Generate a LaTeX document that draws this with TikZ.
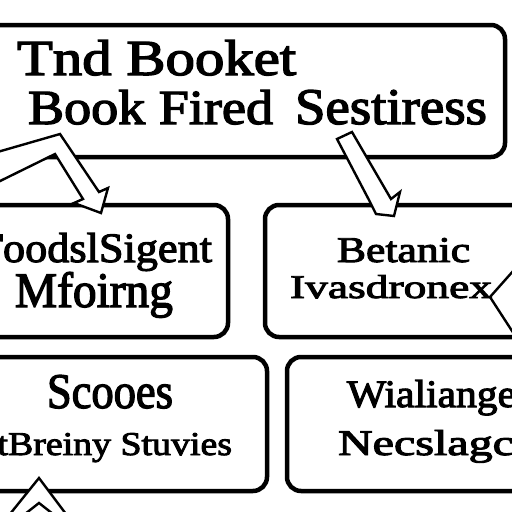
\documentclass[tikz,border=0pt]{standalone}
\usepackage{fontspec}
\usepackage{graphicx}
\newfontfamily\lblfont[FakeBold=2.6]{Liberation Serif}
\newcommand\fitt[3]{\resizebox{#1pt}{#2pt}{\lblfont #3}}
\tikzset{
  box/.style={draw=black, line width=4.5pt, rounded corners=14pt, fill=white, inner sep=0pt},
  lbl/.style={anchor=base west, inner sep=0pt, outer sep=0pt},
  hollow/.style={draw=black, fill=white, line width=2.4pt, line join=miter},
  chev/.style={draw=black, line width=2.4pt}
}
\begin{document}
\begin{tikzpicture}[x=1pt,y=-1pt]
\path[use as bounding box, fill=white] (0,0) rectangle (512,512);
\clip (0,0) rectangle (512,512);
% boxes
\node[box, minimum width=525pt, minimum height=132pt] (top) at (242.5,91) {};
\node[box, minimum width=248pt, minimum height=132pt] (ml) at (104,271) {};
\node[box, minimum width=267pt, minimum height=132pt] (mr) at (398.5,271) {};
\node[box, minimum width=287pt, minimum height=134pt] (bl) at (123.5,424) {};
\node[box, minimum width=245pt, minimum height=134pt] (br) at (409.5,424) {};
% hollow arrows
\draw[hollow] (-6,153) -- (60,134) -- (99,192) -- (108,188) -- (101,213) -- (74,203) -- (83,199) -- (55,154) -- (-6,184) -- cycle;
\draw[hollow] (337,139) -- (352,132) -- (391,199) -- (400,192) -- (394,216) -- (376,214) -- (369,200) -- cycle;
% chevrons
\draw[chev] (514,270) -- (490,297) -- (514,334);
\draw[hollow] (10,514) -- (39,478) -- (66,514);
\draw[chev] (25,514) -- (39,503) -- (53,514);
% texts
\node[lbl] (t1) at (17,75) {\fitt{279}{35}{Tnd Booket}};
\node[lbl] (t2) at (28,124) {\fitt{245}{34}{Book Fired}};
\node[lbl] (t3) at (295,124) {\fitt{192}{34}{Sestiress}};
\node[lbl] (m1) at (3,262) {\fitt{209}{29}{\llap{T}oodslSigent}};
\node[lbl] (m2) at (15,307) {\fitt{158}{35}{Mfoirng}};
\node[lbl] (r1) at (337,262) {\fitt{133}{24}{Betanic}};
\node[lbl] (r2) at (290,298) {\fitt{202}{23}{Ivasdronex}};
\node[lbl] (b1) at (47,408) {\fitt{126}{33}{Scooes}};
\node[lbl] (b2) at (8,455) {\fitt{224}{22}{\llap{t}Breiny Stuvies}};
\node[lbl] (w1) at (347,407) {\fitt{169}{27}{Wialiange}};
\node[lbl] (w2) at (338,455) {\fitt{176}{25}{Necslagc}};
\end{tikzpicture}
\end{document}
